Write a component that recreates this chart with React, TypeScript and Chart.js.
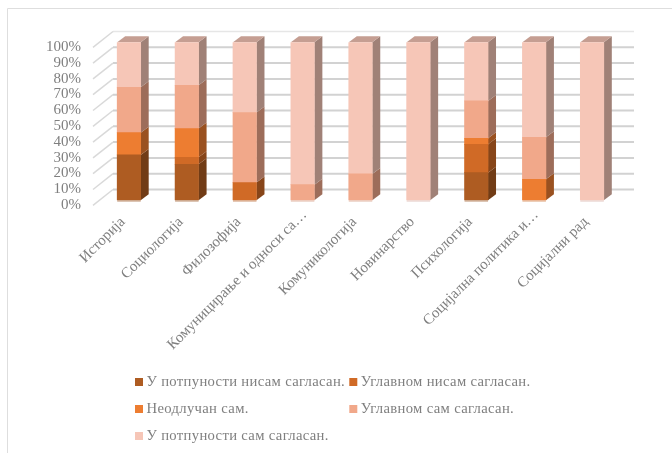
import React, { useEffect, useRef } from "react";
import { Chart, registerables } from "chart.js";

Chart.register(...registerables);

const categories = [
  "Историја",
  "Социологија",
  "Филозофија",
  "Комуницирање и односи са…",
  "Комуникологија",
  "Новинарство",
  "Психологија",
  "Социјална политика и…",
  "Социјални рад",
];
const seriesNames = [
  "У потпуности нисам сагласан.",
  "Углавном нисам сагласан.",
  "Неодлучан сам.",
  "Углавном сам сагласан.",
  "У потпуности сам сагласан.",
];
const disagreeFully = [28.7, 22.8, 0, 0, 0, 0, 17.5, 0, 0];
const disagreeMostly = [0, 4.4, 11.2, 0, 0, 0, 17.9, 0, 0];
const undecided = [14.1, 18.2, 0, 0, 0, 0, 3.8, 13.3, 0];
const agreeMostly = [28.7, 27.4, 44.3, 9.9, 16.7, 0, 23.7, 26.6, 0];
const agreeFully = [28.5, 27.2, 44.5, 90.1, 83.3, 100, 37.1, 60.1, 100];
const seriesColors = ["#AE5C22", "#D06A26", "#ED7D31", "#F1A88A", "#F6C6B7"];
const yTicks = [0, 10, 20, 30, 40, 50, 60, 70, 80, 90, 100];

const FONT = '"Liberation Serif"';
const TEXT = "#7f7f7f";

function shade(hex: string, k: number) {
  const n = parseInt(hex.slice(1), 16);
  const c = [(n >> 16) & 255, (n >> 8) & 255, n & 255].map((v) => Math.round(v * k));
  return `rgb(${c[0]},${c[1]},${c[2]})`;
}

const depthPlugin = {
  id: "depth",
  beforeDraw(chart: any) {
    const { ctx } = chart;
    ctx.save();
    ctx.strokeStyle = "#dedede";
    ctx.lineWidth = 1;
    ctx.beginPath();
    ctx.moveTo(7.5, 453);
    ctx.lineTo(7.5, 8.5);
    ctx.lineTo(672, 8.5);
    ctx.stroke();
    ctx.restore();
    // Truncated labels reach further toward the plot than the full ones.
    chart.scales.x.getLabelItems(chart.chartArea).forEach((item: any) => {
      const text = String(item.label);
      if (text.endsWith("…") && !item.moved) {
        item.options.translation = [item.options.translation[0] + 8, item.options.translation[1] - 7];
        item.moved = true;
      }
    });
  },
  beforeDatasetsDraw(chart: any) {
    const { ctx, scales } = chart;
    const y = scales.y;
    const x = scales.x;
    ctx.save();
    yTicks.forEach((t) => {
      const py = y.getPixelForValue(t);
      ctx.strokeStyle = t === 100 ? "#e6e6e6" : "#d2d2d2";
      ctx.lineWidth = t === 100 ? 1.5 : 2;
      ctx.beginPath();
      ctx.moveTo(x.left + 13, py - 10.8);
      ctx.lineTo(x.right + 13, py - 10.8);
      ctx.stroke();
      ctx.strokeStyle = "#d9d9d9";
      ctx.lineWidth = 1.5;
      ctx.beginPath();
      ctx.moveTo(x.left - 7, py + 5);
      ctx.lineTo(x.left + 13, py - 10.8);
      ctx.stroke();
    });
    const n = chart.data.datasets.length;
    chart.data.labels.forEach((_: string, j: number) => {
      let top: any = null;
      let topColor = "";
      let first = true;
      for (let i = 0; i < n; i++) {
        const ds = chart.data.datasets[i];
        if (!ds.data[j]) continue;
        const b = chart.getDatasetMeta(i).data[j].getProps(["x", "y", "base", "width"], true);
        const r = b.x + b.width / 2;
        ctx.fillStyle = shade(ds.backgroundColor, 0.65);
        ctx.beginPath();
        ctx.moveTo(r, b.y);
        ctx.lineTo(r + 8, b.y - 6);
        ctx.lineTo(r + 8, b.base - 6);
        ctx.lineTo(r, b.base);
        ctx.closePath();
        ctx.fill();
        if (first) {
          ctx.globalAlpha = 0.55;
          ctx.fillStyle = shade(ds.backgroundColor, 0.85);
          ctx.fillRect(b.x - b.width / 2, b.base, b.width, 1.3);
          ctx.globalAlpha = 1;
          first = false;
        }
        top = b;
        topColor = ds.backgroundColor;
      }
      if (top) {
        const l = top.x - top.width / 2;
        const r = top.x + top.width / 2;
        ctx.fillStyle = shade(topColor, 0.8);
        ctx.beginPath();
        ctx.moveTo(l, top.y);
        ctx.lineTo(l + 8, top.y - 6);
        ctx.lineTo(r + 8, top.y - 6);
        ctx.lineTo(r, top.y);
        ctx.closePath();
        ctx.fill();
      }
    });
    ctx.restore();
  },
  afterDraw(chart: any) {
    const { ctx } = chart;
    const cols = [135, 349.3];
    const rows = [382, 409, 436];
    ctx.save();
    ctx.font = `14.67px ${FONT}`;
    ctx.textBaseline = "middle";
    (ctx as any).letterSpacing = "0.33px";
    chart.data.datasets.forEach((ds: any, i: number) => {
      const cx = cols[i % 2];
      const cy = rows[Math.floor(i / 2)];
      ctx.fillStyle = ds.backgroundColor;
      ctx.fillRect(cx, cy - 4, 8, 8);
      ctx.fillStyle = TEXT;
      ctx.fillText(ds.label, cx + 11.5, cy);
    });
    ctx.restore();
  },
};

export default function App() {
  const ref = useRef<HTMLCanvasElement>(null);
  useEffect(() => {
    const values = [disagreeFully, disagreeMostly, undecided, agreeMostly, agreeFully];
    const chart = new Chart(ref.current!, {
      type: "bar",
      data: {
        labels: categories,
        datasets: seriesNames.map((label, i) => ({
          label,
          data: values[i].map((v) => v || null),
          backgroundColor: seriesColors[i],
          borderWidth: 0,
          barThickness: 23.5,
        })),
      },
      plugins: [depthPlugin],
      options: {
        responsive: false,
        animation: false,
        layout: { padding: { top: 42.3, right: 51, left: 0, bottom: 0 } },
        plugins: { legend: { display: false }, tooltip: { enabled: false }, title: { display: false } },
        scales: {
          x: {
            stacked: true,
            grid: { display: false, drawTicks: false },
            border: { display: false },
            afterFit(s: any) {
              s.height = 252.7;
              s.paddingLeft = 0;
              s.paddingRight = 0;
            },
            ticks: {
              autoSkip: false,
              minRotation: 45,
              maxRotation: 45,
              padding: 13,
              labelOffset: -6,
              color: TEXT,
              font: { family: FONT, size: 15 },
            },
          },
          y: {
            stacked: true,
            min: 0,
            max: 100,
            grid: { display: false, drawTicks: false },
            border: { display: false },
            afterFit(s: any) {
              s.width = 100;
              s.paddingTop = 0;
              s.paddingBottom = 0;
            },
            ticks: {
              autoSkip: false,
              stepSize: 10,
              padding: 19,
              labelOffset: 4.7,
              color: TEXT,
              font: { family: FONT, size: 15 },
              callback: (v: any) => `${v}%`,
            },
          },
        },
      },
    } as any);
    return () => chart.destroy();
  }, []);
  return (
    <canvas
      ref={ref}
      width={672}
      height={453}
      style={{ position: "absolute", left: 0, top: 0, width: 672, height: 453, display: "block" }}
    />
  );
}
